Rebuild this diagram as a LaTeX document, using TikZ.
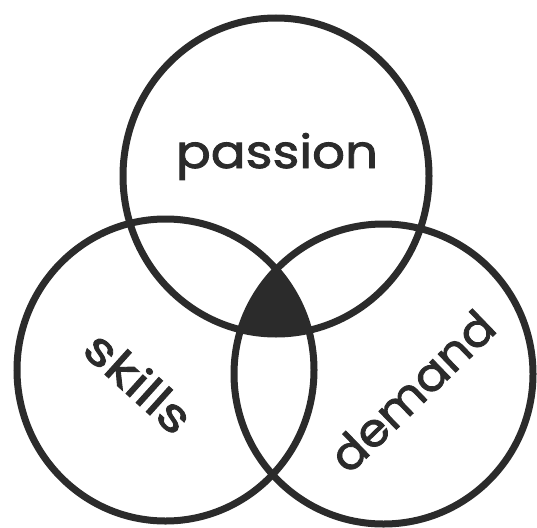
\documentclass[tikz,border=0pt]{standalone}
\usepackage{fontspec}
\newfontfamily\hand[FakeBold=1.8]{Poppins}
\definecolor{ink}{HTML}{2B2B2B}
\begin{document}
\begin{tikzpicture}[x=1pt,y=-1pt,
  ring/.style={draw=ink,line width=7pt},
  word/.style={text=ink,inner sep=0pt,font=\hand\fontsize{46}{50}\selectfont}]
\useasboundingbox (0,0) rectangle (537,527);
\fill[white] (0,0) rectangle (537,527);
% circles
\coordinate (cp) at (276,176);
\coordinate (cs) at (165.5,370);
\coordinate (cd) at (383.5,374);
\begin{scope}
  \clip (cp) ellipse [x radius=153, y radius=158];
  \clip (cs) ellipse [x radius=148.5, y radius=151];
  \fill[ink] (cd) ellipse [x radius=149.5, y radius=150];
\end{scope}
\draw[ring] (cp) ellipse [x radius=153, y radius=158];
\draw[ring] (cs) ellipse [x radius=148.5, y radius=151];
\draw[ring] (cd) ellipse [x radius=149.5, y radius=150];
% labels
\node[word,anchor=base,xscale=1.12] (passion) at (277,168) {passion};
\node[word,rotate=-42,xscale=1.2] (skills) at (139,382) {skills};
\node[word,rotate=44,xscale=1.05] (demand) at (412,391) {demand};
\end{tikzpicture}
\end{document}
